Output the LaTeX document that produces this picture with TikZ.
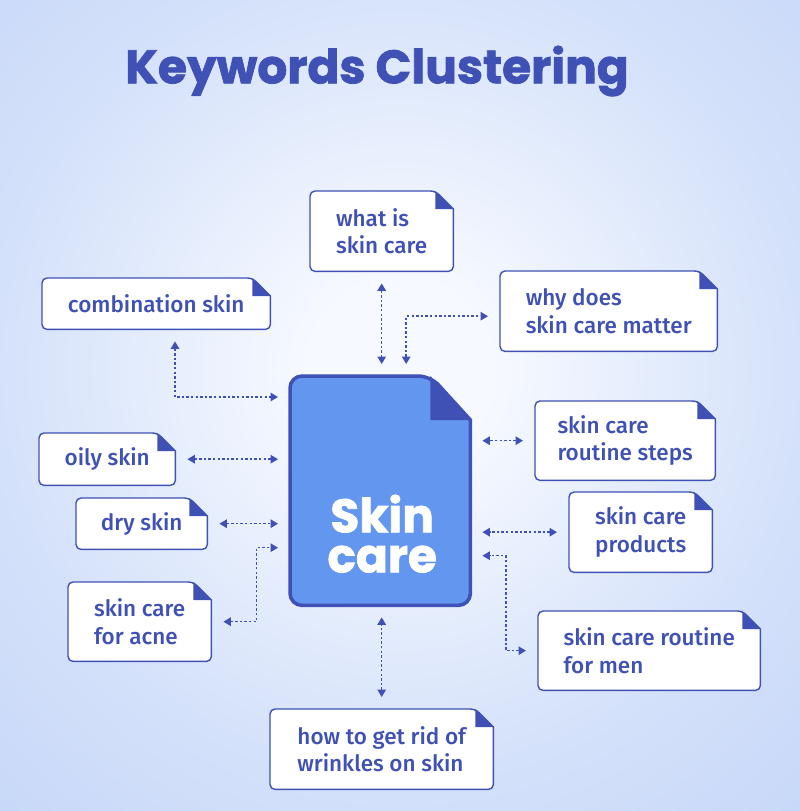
\documentclass[tikz,border=0pt]{standalone}
\usepackage{fontspec}
\setmainfont{Fira Sans Medium}
\newfontfamily\heavyfont{Poppins}[BoldFeatures={FakeBold=1.6}]
\usetikzlibrary{calc,arrows.meta}

\definecolor{indigo}{HTML}{3F51B5}
\definecolor{docblue}{HTML}{6396EE}
\definecolor{bginner}{HTML}{F6F9FF}
\definecolor{bgmid}{HTML}{D4E1FA}
\definecolor{bgouter}{HTML}{B5CAF5}

\pgfdeclareradialshading{bgshade}{\pgfpoint{0bp}{0bp}}{color(0bp)=(bginner); color(5bp)=(bginner); color(22bp)=(bgmid); color(48bp)=(bgouter); color(80bp)=(bgouter)}
\pgfdeclarelayer{back}
\pgfdeclarelayer{cards}
\pgfsetlayers{back,cards,main}

\tikzset{
  card/.style={anchor=north west, inner sep=0pt, text=indigo, align=left,
    font=\fontsize{22.5}{27.5}\selectfont},
  frame/.style={draw=indigo, line width=1.4pt, fill=white},
  link/.style={indigo, line width=1.5pt, dash pattern=on 2.4pt off 2.2pt,
    {Triangle[width=8.5pt,length=7.5pt]}-{Triangle[width=8.5pt,length=7.5pt]},
    shorten <=12pt, shorten >=12pt},
  headline/.style={text=indigo, font=\heavyfont\bfseries\fontsize{47}{50}\selectfont},
  doctext/.style={text=white, align=center, font=\heavyfont\bfseries\fontsize{47}{40}\selectfont},
}

% white card with a folded corner, drawn under the node text
\newcommand{\cardframe}[1]{%
  \begin{pgfonlayer}{cards}
    \draw[frame] (#1.south west) [rounded corners=5pt] -- (#1.north west)
      -- ($(#1.north east)+(-18,0)$) [sharp corners] -- ($(#1.north east)+(0,18)$)
      [rounded corners=5pt] -- (#1.south east) -- cycle;
    \fill[indigo] ($(#1.north east)+(-18,0)$) -- ($(#1.north east)+(-18,18)$)
      -- ($(#1.north east)+(0,18)$) -- cycle;
  \end{pgfonlayer}}

\begin{document}
\begin{tikzpicture}[x=1pt,y=-1pt]
  \useasboundingbox (0,0) rectangle (800,811);
  \begin{pgfonlayer}{back}
    \clip (0,0) rectangle (800,811);
    \shade[shading=bgshade] (-60,-90) rectangle (860,830);
  \end{pgfonlayer}

  \node[headline] (heading) at (377,71) {Keywords Clustering};

  % the main document
  \node[minimum width=180pt, minimum height=229pt, anchor=north west, inner sep=0pt] (doc) at (290,376) {};
  \begin{pgfonlayer}{cards}
    \draw[draw=indigo, line width=3.5pt, fill=docblue] (doc.south west) [rounded corners=12pt] -- (doc.north west)
      -- ($(doc.north east)+(-40,0)$) [sharp corners] -- ($(doc.north east)+(0,44)$)
      [rounded corners=12pt] -- (doc.south east) -- cycle;
    \fill[indigo] ($(doc.north east)+(-40,0)$) -- ($(doc.north east)+(-40,44)$)
      -- ($(doc.north east)+(0,44)$) -- cycle;
  \end{pgfonlayer}
  \node[doctext] (doclabel) at ($(doc.center)+(2,43)$) {Skin\\care};

  % keyword cards
  \node[card, minimum width=143pt, minimum height=80pt] (what) at (310,191) {what is\\skin care};
  \node[card, minimum width=228pt, minimum height=51pt] (comb) at (42,278) {combination skin};
  \node[card, minimum width=217pt, minimum height=80pt] (why) at (500,271) {why does\\skin care matter};
  \node[card, minimum width=180pt, minimum height=79pt] (steps) at (535,401) {skin care\\routine steps};
  \node[card, minimum width=136pt, minimum height=52pt] (oily) at (39,433) {oily skin};
  \node[card, minimum width=131pt, minimum height=51pt] (dry) at (76,498) {dry skin};
  \node[card, minimum width=143pt, minimum height=80pt] (prod) at (569,492) {skin care\\products};
  \node[card, minimum width=143pt, minimum height=79pt] (acne) at (68,582) {skin care\\for acne};
  \node[card, minimum width=222pt, minimum height=79pt] (men) at (538,611) {skin care routine\\for men};
  \node[card, minimum width=223pt, minimum height=80pt] (wrink) at (270,709) {how to get rid of\\wrinkles on skin};
  \foreach \c in {what,comb,why,steps,oily,dry,prod,acne,men,wrink} {\cardframe{\c}}

  % dotted links
  \draw[link] (what.south) -- (what.south |- doc.north);
  \draw[link] ($(doc.north)+(26,0)$) |- ([yshift=-5pt]why.west);
  \draw[link] ($(comb.south west)+(133,0)$) |- ($(doc.north west)+(0,21)$);
  \draw[link] (oily.east) -- (oily.east -| doc.west);
  \draw[link] (dry.east) -- (dry.east -| doc.west);
  \draw[link] (acne.east) -- ++(45,0) |- ($(doc.west)+(0,57)$);
  \draw[link] (steps.west) -- (steps.west -| doc.east);
  \draw[link] (prod.west) -- (prod.west -| doc.east);
  \draw[link] (men.west) -- ++(-32,0) |- ($(doc.east)+(0,65)$);
  \draw[link] (wrink.north) -- (wrink.north |- doc.south);
\end{tikzpicture}
\end{document}
